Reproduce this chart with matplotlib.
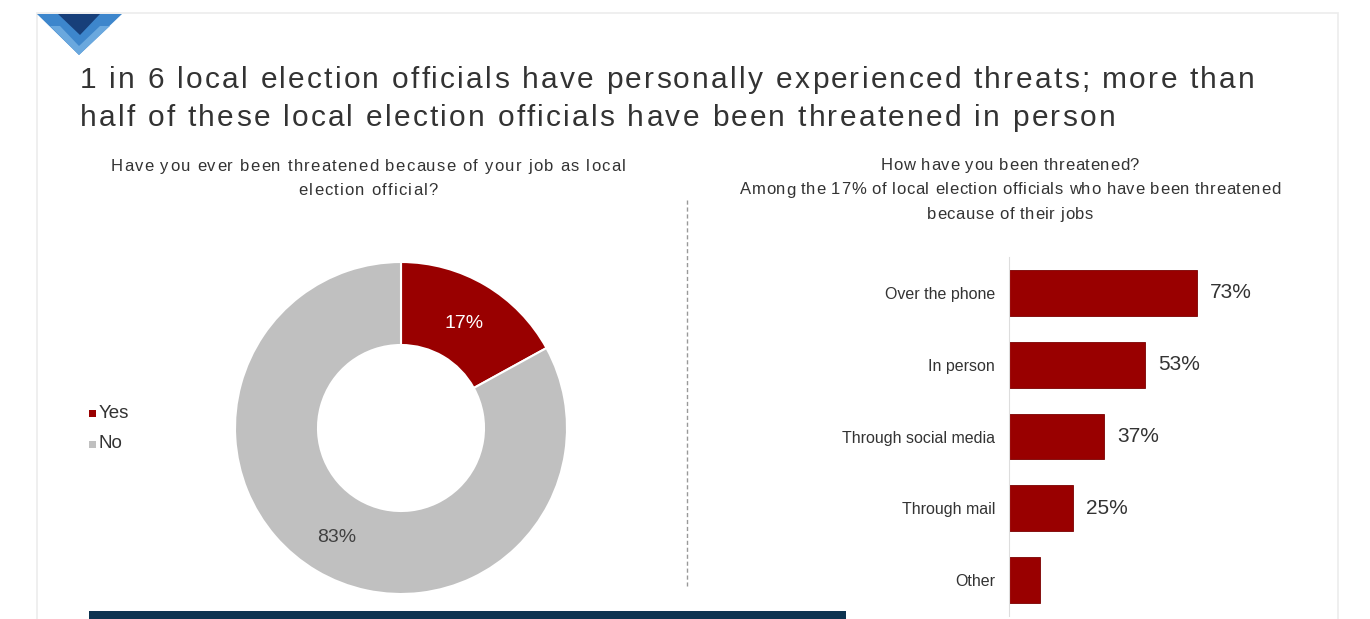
import matplotlib
matplotlib.use("Agg")
import matplotlib.pyplot as plt
from matplotlib.patches import Polygon, Rectangle
from matplotlib.lines import Line2D
from matplotlib.font_manager import FontProperties

# ---- data ----
pie_labels = ["Yes", "No"]
pie_values = [17, 83]
bar_categories = ["Over the phone", "In person", "Through social media", "Through mail", "Other"]
bar_values = [73, 53, 37, 25, 12]
bar_value_labels = ["73%", "53%", "37%", "25%", ""]

title_lines = ["1 in 6 local election officials have personally experienced threats; more than",
               "half of these local election officials have been threatened in person"]
left_sub = ["Have you ever been threatened because of your job as local", "election official?"]
right_sub = ["How have you been threatened?",
             "Among the 17% of local election officials who have been threatened",
             "because of their jobs"]

RED = "#990000"
GRAY = "#c0c0c0"
TXT = "#333333"
FAM = "Liberation Sans"

W, H = 1370, 619
fig = plt.figure(figsize=(W / 100, H / 100), dpi=100)
fig.patch.set_facecolor("white")
renderer = fig.canvas.get_renderer()

def fx(x): return x / W
def fy(y): return 1 - y / H

def adv(s, prop):
    w_bar = renderer.get_text_width_height_descent("|", prop, ismath=False)[0]
    w = renderer.get_text_width_height_descent(s + "|", prop, ismath=False)[0]
    return w - w_bar

def tracked_text(x, ybase, s, size, track, ha="left", color=TXT):
    """Draw text with extra letter spacing (pixels), baseline at ybase (pixels from top)."""
    prop = FontProperties(family=FAM, size=size)
    total = adv(s, prop) + track * (len(s) - 1)
    if ha == "center":
        x0 = x - total / 2
    elif ha == "right":
        x0 = x - total
    else:
        x0 = x
    for i, ch in enumerate(s):
        if ch == " ":
            continue
        px = x0 + adv(s[:i], prop) + track * i
        fig.text(fx(px), fy(ybase), ch, ha="left", va="baseline", fontproperties=prop,
                 color=color)

# panel border
fig.add_artist(Rectangle((fx(37), fy(640)), fx(1338) - fx(37), fy(13) - fy(640),
                         transform=fig.transFigure, fill=False, edgecolor="#ececec", lw=1.2))

# logo chevron
logo = [
    ([(37, 14), (122, 14), (79, 55)], "#3d86cc"),
    ([(50, 26), (79, 55), (110, 26), (100, 26), (79, 46), (60, 26)], "#6aa8de"),
    ([(58, 14), (100, 14), (80, 35)], "#173f7a"),
]
for pts, col in logo:
    fig.add_artist(Polygon([(fx(a), fy(b)) for a, b in pts], closed=True,
                           transform=fig.transFigure, color=col, lw=0))

# title
tracked_text(80, 88, title_lines[0], 21.5, 2.25)
tracked_text(80, 126, title_lines[1], 21.5, 2.25)

# subtitles
for i, line in enumerate(left_sub):
    tracked_text(368, 171 + 24 * i, line, 12, 1.2, ha="center")
for i, line in enumerate(right_sub):
    tracked_text(1010, 170 + 24.5 * i, line, 12, 0.6, ha="center")

# dashed divider
fig.add_artist(Line2D([fx(687), fx(687)], [fy(200), fy(586)], transform=fig.transFigure,
                      color="#999999", lw=1, ls=(0, (3, 2))))

# donut
cx, cy, r = 401, 428, 166
ax_pie = fig.add_axes([fx(cx - r), fy(cy + r), 2 * r / W, 2 * r / H])
ax_pie.pie(pie_values, colors=[RED, GRAY], startangle=90, counterclock=False,
           wedgeprops=dict(width=0.5, edgecolor="white", linewidth=1.5), radius=1.0)
ax_pie.set_xlim(-1, 1); ax_pie.set_ylim(-1, 1)
ax_pie.set_aspect("auto")
ax_pie.text(0.38, 0.63, f"{pie_values[0]}%", ha="center", va="center", fontsize=14,
            color="white", family=FAM)
ax_pie.text(-0.39, -0.66, f"{pie_values[1]}%", ha="center", va="center", fontsize=14,
            color="#404040", family=FAM)

# legend
for i, (lab, col) in enumerate(zip(pie_labels, [RED, GRAY])):
    y = 413 + i * 31
    fig.add_artist(Rectangle((fx(89), fy(y + 3.5)), 7 / W, 7 / H, transform=fig.transFigure,
                             color=col, lw=0))
    fig.text(fx(99), fy(y), lab, ha="left", va="center", fontsize=13.5, color=TXT, family=FAM)

# bar chart
ax_bar = fig.add_axes([fx(1009), fy(616), (1266 - 1009) / W, (616 - 257) / H])
ypos = list(range(len(bar_categories)))
ax_bar.barh(ypos, bar_values, height=0.64, color=RED, edgecolor="#7a0000", linewidth=0.6)
ax_bar.set_xlim(0, 100)
ax_bar.set_ylim(len(bar_categories) - 0.5, -0.5)
ax_bar.set_yticks(ypos)
ax_bar.set_yticklabels(bar_categories, fontsize=11.5, color=TXT, family=FAM)
ax_bar.tick_params(axis="y", length=0, pad=10)
ax_bar.set_xticks([])
for s in ["top", "right", "bottom"]:
    ax_bar.spines[s].set_visible(False)
ax_bar.spines["left"].set_color("#dddddd")
ax_bar.patch.set_alpha(0)
for yv, v, lab in zip(ypos, bar_values, bar_value_labels):
    if lab:
        ax_bar.text(v + 5, yv, lab, ha="left", va="center", fontsize=15, color=TXT, family=FAM)

# bottom navy band
fig.add_artist(Rectangle((fx(89), fy(619)), (846 - 89) / W, 8 / H, transform=fig.transFigure,
                         color="#0d3350", lw=0))

fig.savefig("out.png", dpi=100, facecolor="white")
